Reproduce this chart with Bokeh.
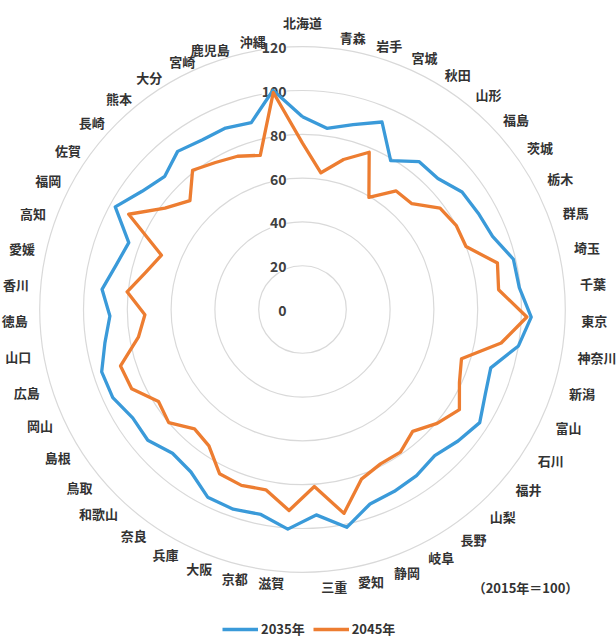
import numpy as np
from bokeh.plotting import figure
from bokeh.models import Range1d, Legend, LegendItem, ColumnDataSource, Label
from bokeh.core.properties import value, field
from bokeh.embed import file_html
from bokeh.resources import INLINE

prefectures = ["北海道", "青森", "岩手", "宮城", "秋田", "山形", "福島", "茨城", "栃木", "群馬",
               "埼玉", "千葉", "東京", "神奈川", "新潟", "富山", "石川", "福井", "山梨", "長野",
               "岐阜", "静岡", "愛知", "三重", "滋賀", "京都", "大阪", "兵庫", "奈良", "和歌山",
               "鳥取", "島根", "岡山", "広島", "山口", "徳島", "香川", "愛媛", "高知", "福岡",
               "佐賀", "長崎", "熊本", "大分", "宮崎", "鹿児島", "沖縄"]

y2035 = [88, 83.5, 87.5, 93, 79, 86, 86, 90.5, 91.5, 93,
         99, 99.5, 104.5, 100, 90, 92, 96, 93, 90, 92,
         93, 94, 101.5, 94, 100.5, 95.5, 96.5, 96, 90, 88.5,
         92.5, 92, 95.5, 96, 91.5, 88, 92, 87.5, 85, 97.5,
         91, 87.5, 92, 90, 90, 88.5, 101]

y2045 = [76, 63, 71, 78, 59.5, 69, 69.5, 78, 80, 80,
         91.5, 90, 102.5, 92, 76, 79, 85, 80.5, 75, 79,
         79, 82, 95, 81, 92, 84, 85, 84, 75.5, 73.5,
         80, 78, 86, 87, 76, 72, 80.5, 73.5, 69, 90.5,
         78, 71.5, 81, 78, 76, 73, 100]

r_ticks = [0, 20, 40, 60, 80, 100, 120]
series_names = ["2035年", "2045年"]
note_text = "（2015年＝100）"

BLUE = "#3A9AD9"
ORANGE = "#ED7D31"
FONT = "Noto Sans CJK JP"
TXT = "#333333"

W, H = 616, 638
K = 2.19            # pixels per value unit
CX, CY = 302, 309   # centre of the radar inside the figure (px from top-left)

p = figure(width=W, height=H, output_backend="svg", toolbar_location=None,
           x_range=Range1d(-CX / K, (W - CX) / K),
           y_range=Range1d(-(H - CY) / K, CY / K),
           x_axis_type=None, y_axis_type=None, min_border=0)
p.grid.visible = False
p.outline_line_color = None
p.background_fill_color = "white"
p.border_fill_color = "white"

n = len(prefectures)
theta = 2 * np.pi * np.arange(n) / n
sin_t, cos_t = np.sin(theta), np.cos(theta)

# grid circles
p.circle(x=[0] * (len(r_ticks) - 1), y=[0] * (len(r_ticks) - 1), radius=r_ticks[1:],
         fill_color=None, line_color="#D9D9D9", line_width=1.2)

# radial tick labels
p.text(x=[0] * len(r_ticks), y=r_ticks, text=[str(t) for t in r_ticks],
       x_offset=-16, y_offset=1, text_align="right", text_baseline="middle",
       text_font=value(FONT), text_font_size="14px", text_font_style="bold",
       text_color="#404040", background_fill_color="white")

# series
def closed(vals):
    v = np.asarray(vals, dtype=float)
    xs = v * sin_t
    ys = v * cos_t
    return np.append(xs, xs[0]), np.append(ys, ys[0])

bx, by = closed(y2035)
ox, oy = closed(y2045)
r1 = p.line(bx, by, line_color=BLUE, line_width=3.3, line_join="round")
r2 = p.line(ox, oy, line_color=ORANGE, line_width=3.3, line_join="round")

# category labels
r_lab = np.where(sin_t >= 0, 279, 275) / K
align = np.where(sin_t > 0.01, "left", np.where(sin_t < -0.01, "right", "center"))
yoff = 2 + 3 * cos_t
yoff[np.abs(sin_t) < 0.01] = -8
lab_src = ColumnDataSource(dict(x=r_lab * sin_t, y=r_lab * cos_t, text=prefectures,
                                align=list(align), yoff=yoff))
p.text(x="x", y="y", text="text", source=lab_src, text_align=field("align"),
       y_offset=field("yoff"), text_baseline="middle",
       text_font=value(FONT), text_font_size="13px", text_font_style="bold",
       text_color=TXT)

# note
p.add_layout(Label(x=525, y=H - 587, x_units="screen", y_units="screen", text=note_text,
                   text_align="center", text_baseline="middle", text_font=FONT,
                   text_font_size="13px", text_font_style="bold", text_color=TXT))

legend = Legend(items=[LegendItem(label=series_names[0], renderers=[r1]),
                       LegendItem(label=series_names[1], renderers=[r2])],
                orientation="horizontal", location=(222, 0),
                label_text_font=FONT, label_text_font_size="13px",
                label_text_font_style="bold", label_text_color=TXT,
                glyph_width=36, glyph_height=14, label_standoff=3, spacing=8,
                padding=0, margin=0, border_line_color=None, background_fill_alpha=0)
p.add_layout(legend)

open("out.html", "w").write(file_html(p, INLINE))
